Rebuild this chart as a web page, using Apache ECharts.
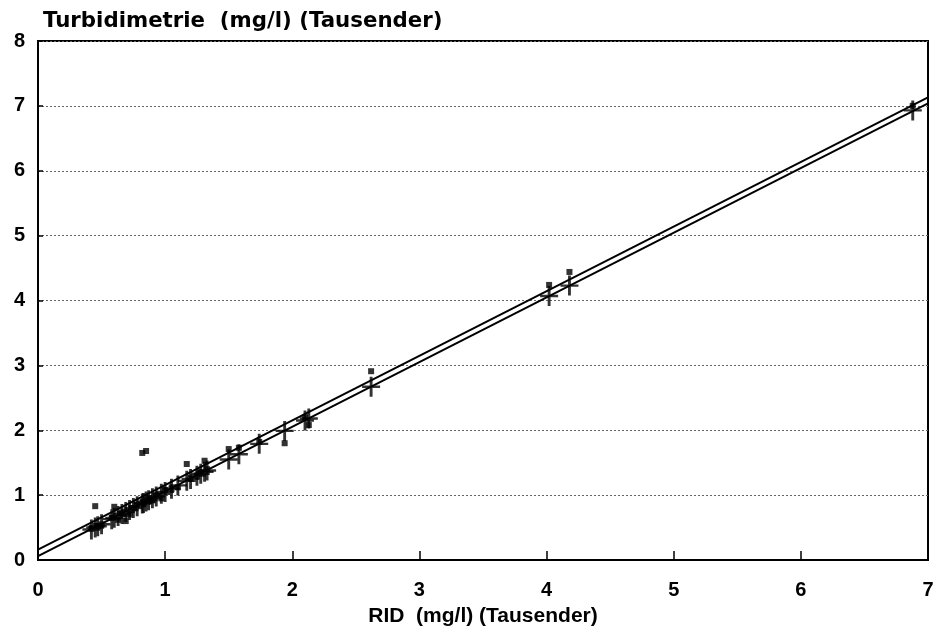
<!DOCTYPE html>
<html><head><meta charset="utf-8">
<script src="https://cdn.jsdelivr.net/npm/echarts@6/dist/echarts.min.js"></script>
<style>html,body{margin:0;padding:0;background:#fff}#c{width:937px;height:634px}</style>
</head><body><div id="c"></div>
<script>
// RID values (x), measured turbidimetry (squares), fitted values (crosses)
var rid  = [0.42,0.45,0.47,0.50,0.58,0.60,0.63,0.66,0.69,0.72,0.75,0.78,0.82,0.85,0.83,0.87,0.90,0.93,0.97,1.00,1.05,1.10,1.17,1.20,1.25,1.28,1.31,1.33,1.50,1.58,1.74,1.94,2.10,2.13,2.62,4.02,4.18,6.88];
var turb = [0.48,0.83,0.52,0.55,0.65,0.82,0.62,0.72,0.60,0.70,0.80,0.85,1.65,1.68,0.88,0.95,0.92,1.00,0.95,1.08,1.10,1.12,1.48,1.25,1.30,1.35,1.53,1.40,1.71,1.73,1.82,1.80,2.20,2.08,2.91,4.24,4.44,7.00];
var fit  = [0.47,0.50,0.52,0.55,0.63,0.65,0.68,0.71,0.74,0.77,0.80,0.83,0.87,0.90,0.88,0.92,0.95,0.98,1.02,1.05,1.10,1.15,1.22,1.25,1.30,1.33,1.36,1.38,1.55,1.63,1.79,1.99,2.15,2.18,2.67,4.07,4.23,6.93];
var lineLow  = [[0, 0.06], [7, 7.04]];
var lineHigh = [[0, 0.16], [7, 7.13]];
var xTicks = [0,1,2,3,4,5,6,7];
var yTicks = [0,1,2,3,4,5,6,7,8];

var FONT = '"Liberation Sans", Arial, sans-serif';
var squares = rid.map(function(x,i){return [x, turb[i]];});
var crosses = rid.map(function(x,i){return [x, fit[i]];});
var plus = 'path://M63,0L87,0L87,88L150,88L150,112L87,112L87,200L63,200L63,112L0,112L0,88L63,88Z';

var chart = echarts.init(document.getElementById('c'), null, {renderer:'canvas'});
chart.setOption({
  animation:false,
  backgroundColor:'#fff',
  title:{text:'Turbidimetrie  (mg/l) (Tausender)', left:38, top:6,
    textStyle:{fontFamily:'"DejaVu Sans", sans-serif', fontWeight:'bold', fontSize:21.3, color:'#000'}},
  grid:{left:38, right:9, top:41, bottom:74, show:true, borderColor:'#000', borderWidth:2, backgroundColor:'#fff'},
  xAxis:{type:'value', min:0, max:7, interval:1,
    name:'RID  (mg/l) (Tausender)', nameLocation:'middle', nameGap:46,
    nameTextStyle:{fontFamily:'"Liberation Sans Narrow", "Liberation Sans", sans-serif', fontWeight:'bold', fontSize:21, color:'#000'},
    axisLine:{show:true, lineStyle:{color:'#000', width:2}},
    axisTick:{show:true, inside:true, length:9, lineStyle:{color:'#000', width:1.5}},
    axisLabel:{margin:20, fontFamily:FONT, fontWeight:'bold', fontSize:20, color:'#000',
      formatter:function(v){return xTicks.indexOf(v)>=0? String(v):'';}},
    splitLine:{show:false}},
  yAxis:{type:'value', min:0, max:8, interval:1,
    axisLine:{show:true, lineStyle:{color:'#000', width:2}},
    axisTick:{show:true, inside:true, length:5, lineStyle:{color:'#000', width:1.5}},
    axisLabel:{margin:13, fontFamily:FONT, fontWeight:'bold', fontSize:20, color:'#000',
      formatter:function(v){return yTicks.indexOf(v)>=0? String(v):'';}},
    splitLine:{show:true, lineStyle:{color:'#666', width:1, type:[2,2]}}},
  series:[
    {type:'line', data:lineLow, symbol:'none', lineStyle:{color:'#000', width:2}, z:3},
    {type:'line', data:lineHigh, symbol:'none', lineStyle:{color:'#000', width:2}, z:3},
    {type:'scatter', data:squares, symbol:'rect', symbolSize:6, itemStyle:{color:'#000'}, z:4},
    {type:'scatter', data:crosses, symbol:plus, symbolSize:[18,20], itemStyle:{color:'#000'}, z:5}
  ]
});
</script></body></html>
